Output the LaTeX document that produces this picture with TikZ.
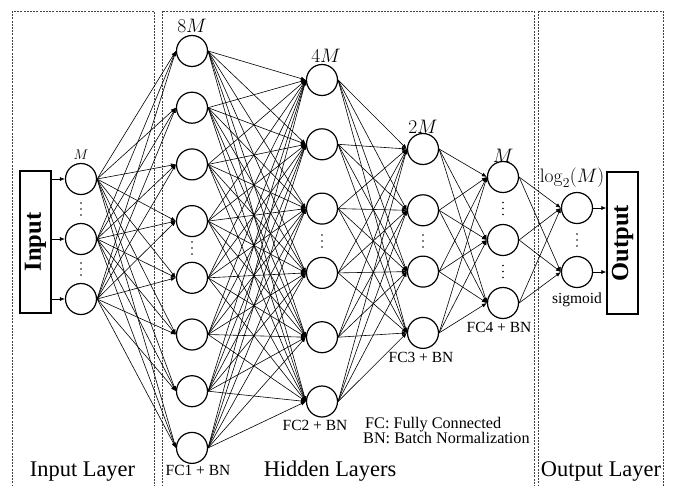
\RequirePackage{fix-cm}
\documentclass[tikz,border=0pt]{standalone}
\usepackage{amsmath,amssymb}
\usepackage[no-math]{fontspec}
\setmainfont{Liberation Serif}
\usetikzlibrary{positioning,arrows.meta}

\begin{document}
\begin{tikzpicture}[x=1pt,y=-1pt,
  neuron/.style={draw,circle,line width=1.2pt,minimum size=31pt,inner sep=0pt},
  conn/.style={-{Latex[length=5pt,width=4pt]},line width=0.6pt},
  iobox/.style={draw,line width=1.2pt,minimum width=31pt,minimum height=142pt,inner sep=0pt,font=\fontsize{24.5}{26}\selectfont\bfseries},
  layerbox/.style={draw=black!75,line width=0.6pt,dash pattern=on 2pt off 1.2pt},
  mathlab/.style={inner sep=0pt,font=\fontsize{19.5}{21}\selectfont},
  fctag/.style={inner sep=0pt,font=\fontsize{15.5}{17}\selectfont},
  legend/.style={inner sep=0pt,font=\fontsize{16.2}{18}\selectfont},
  layername/.style={inner sep=0pt,font=\fontsize{22.4}{24}\selectfont}]
\clip (0,0) rectangle (677,485);

% layer boxes
\draw[layerbox] (12,11) rectangle (154,495);
\draw[layerbox] (162,11) rectangle (534,495);
\draw[layerbox] (538,11) rectangle (663,495);

% input / output blocks
\node[iobox] (inp) at (35.5,242) {\rotatebox{90}{Input}};
\node[iobox] (outp) at (622.5,243) {\rotatebox{90}{Output}};

% neurons
\foreach \i in {1,...,3} {
  \pgfmathsetmacro{\yy}{119+60*\i}
  \node[neuron] (in-\i) at (81,\yy) {};
}
\foreach \i in {1,...,8} {
  \pgfmathsetmacro{\yy}{-5.7+56.7*\i}
  \node[neuron] (h1-\i) at (192,\yy) {};
}
\foreach \i in {1,...,6} {
  \pgfmathsetmacro{\yy}{15.7+64.3*\i}
  \node[neuron] (h2-\i) at (322,\yy) {};
}
\foreach \i in {1,...,4} {
  \pgfmathsetmacro{\yy}{87.7+61.3*\i}
  \node[neuron] (h3-\i) at (423,\yy) {};
}
\foreach \i in {1,...,3} {
  \pgfmathsetmacro{\yy}{114+63*\i}
  \node[neuron] (h4-\i) at (503,\yy) {};
}
\foreach \i in {1,2} {
  \pgfmathsetmacro{\yy}{144+64*\i}
  \node[neuron] (out-\i) at (577,\yy) {};
}

% vertical dots
\foreach \x/\y in {81/209,81/269,192/248,322/241,423/241,503/208.5,503/271.5,577/240}
  \foreach \d in {-6,0,6}
    \fill (\x,\y+\d) circle (0.9pt);

% connections
\foreach \i in {1,...,3} \draw[conn] (inp.east |- in-\i) -- (in-\i.west);
\foreach \i in {1,...,3} {\foreach \j in {1,...,8} {\draw[conn] (in-\i.east) -- (h1-\j.west);}}
\foreach \i in {1,...,8} {\foreach \j in {1,...,6} {\draw[conn] (h1-\i.east) -- (h2-\j.west);}}
\foreach \i in {1,...,6} {\foreach \j in {1,...,4} {\draw[conn] (h2-\i.east) -- (h3-\j.west);}}
\foreach \i in {1,...,4} {\foreach \j in {1,...,3} {\draw[conn] (h3-\i.east) -- (h4-\j.west);}}
\foreach \i in {1,...,3} {\foreach \j in {1,2} {\draw[conn] (h4-\i.east) -- (out-\j.west);}}
\foreach \i in {1,2} \draw[conn] (out-\i.east) -- (outp.west |- out-\i);

% sizes above the layers
\node[mathlab, font=\fontsize{14}{15}\selectfont, above=3.5pt of in-1] (sz0) {$M$};
\node[mathlab, above=2.5pt of h1-1] (sz1) {$8M$};
\node[mathlab, above=1pt of h2-1, xshift=4pt] (sz2) {$4M$};
\node[mathlab, above=-0.5pt of h3-1] (sz3) {$2M$};
\node[mathlab, above=-2pt of h4-1] (sz4) {$M$};
\node[mathlab, above=4pt of out-1, xshift=-5pt] (sz5) {$\log_2(M)$};

% layer operations
\node[fctag, below=1.5pt of h1-8, xshift=6pt] (fc1) {FC1 + BN};
\node[fctag, below=2.5pt of h2-6, xshift=-7pt] (fc2) {FC2 + BN};
\node[fctag, below=3.2pt of h3-4, xshift=-2pt] (fc3) {FC3 + BN};
\node[fctag, below=3.2pt of h4-3, xshift=-4pt] (fc4) {FC4 + BN};
\node[fctag, below=4pt of out-2] (sig) {sigmoid};

% legend
\node[legend, anchor=base west] (fcnote) at (365,428) {FC: Fully Connected};
\node[legend, anchor=base west] (bnnote) at (363,443) {BN: Batch Normalization};

% layer names
\node[layername, anchor=base] (inname) at (82.5,476) {Input Layer};
\node[layername, anchor=base] (hidname) at (330,476) {Hidden Layers};
\node[layername, anchor=base] (outname) at (601,476) {Output Layer};
\end{tikzpicture}
\end{document}
